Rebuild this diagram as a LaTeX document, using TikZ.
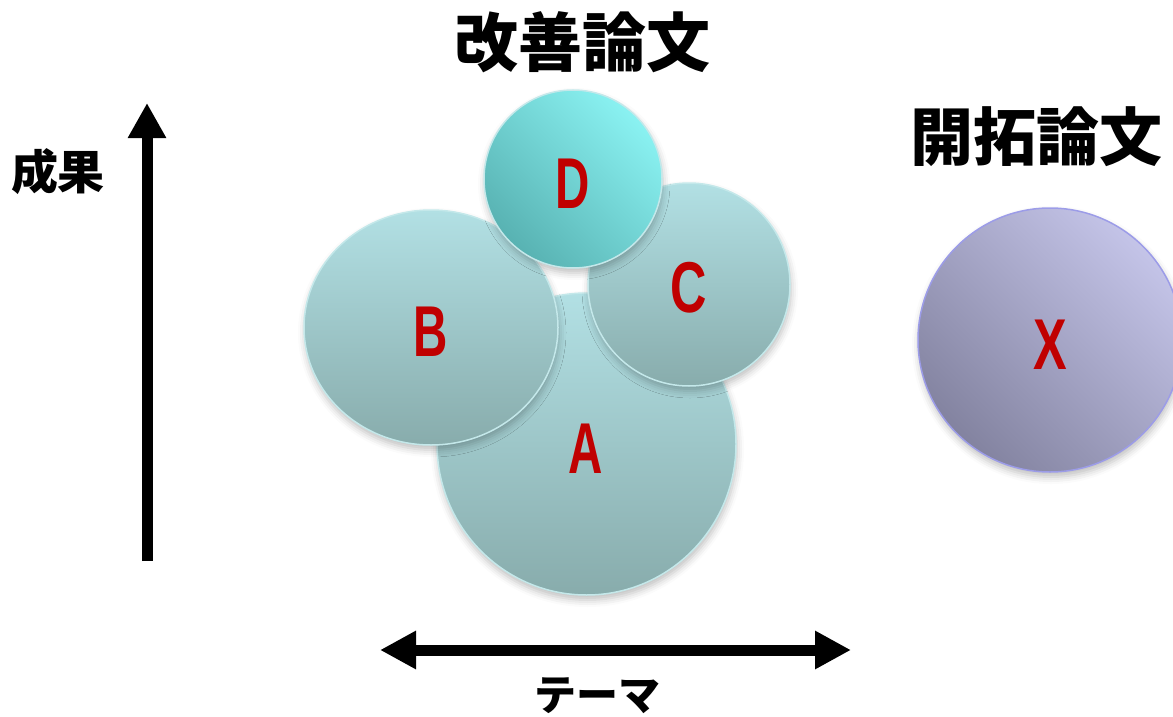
\documentclass[tikz,border=0pt]{standalone}
\usepackage{fontspec}
\newfontfamily\cjk{Noto Sans CJK JP}
\newfontfamily\lat{Liberation Sans}
\usetikzlibrary{arrows.meta,shadows.blur,shapes.geometric}
\definecolor{tealtop}{HTML}{B2E0E4}
\definecolor{tealbot}{HTML}{88ACAC}
\definecolor{tealedge}{HTML}{C4E8EA}
\definecolor{dlight}{HTML}{8AF2F2}
\definecolor{ddark}{HTML}{58B2B2}
\definecolor{xlight}{HTML}{C4C4E8}
\definecolor{xdark}{HTML}{8383A0}
\definecolor{xedge}{HTML}{9C9CE8}
\definecolor{letred}{HTML}{C00000}
\begin{document}
\begin{tikzpicture}[x=1pt,y=-1pt,
  bubble/.style={ellipse, inner sep=0pt, line width=1.5pt,
    blur shadow={shadow xshift=1pt, shadow yshift=-5pt, shadow blur radius=7pt, shadow opacity=25}},
  tealbub/.style={bubble, draw=tealedge, top color=tealtop, bottom color=tealbot},
  dbub/.style={bubble, draw=tealedge, top color=dlight, bottom color=ddark, shading angle=-45},
  xbub/.style={bubble, draw=xedge, top color=xlight, bottom color=xdark, shading angle=-45},
  letter/.style={text=letred, inner sep=0pt, font=\lat\bfseries\fontsize{72}{72}\selectfont},
  jtitle/.style={inner sep=0pt, font=\cjk\bfseries\fontsize{64}{64}\selectfont},
  axis/.style={line width=11pt, -{Triangle[width=36pt,length=35pt]}},
  axis2/.style={line width=11pt, {Triangle[width=36pt,length=36pt]}-{Triangle[width=36pt,length=36pt]}}
]
\useasboundingbox (0,0) rectangle (1173,717);

% bubbles
\node[tealbub, minimum width=299pt, minimum height=302pt] (A) at (586.5,444) {};
\node[tealbub, minimum width=254pt, minimum height=235pt] (B) at (431,327.5) {};
\node[tealbub, minimum width=202pt, minimum height=203pt] (C) at (689,284.5) {};
\node[dbub, minimum width=178pt, minimum height=178pt] (D) at (573,179) {};
\node[xbub, minimum width=264pt, minimum height=264pt] (X) at (1050,340) {};

% letters
\node[letter] (lA) at (586,449) {\scalebox{0.66}[1]{A}};
\node[letter] (lB) at (431,332) {\scalebox{0.66}[1]{B}};
\node[letter] (lC) at (689,288) {\scalebox{0.7}[1]{C}};
\node[letter] (lD) at (573,183.5) {\scalebox{0.66}[1]{D}};
\node[letter] (lX) at (1050,345) {\scalebox{0.7}[1]{X}};

% titles
\node[jtitle] (t1) at (582,42) {改善論文};
\node[jtitle, font=\cjk\bfseries\fontsize{63}{63}\selectfont] (t2) at (1036,137) {開拓論文};
\node[jtitle, font=\cjk\bfseries\fontsize{47}{47}\selectfont] (t3) at (58,172) {成果};
\node[jtitle, font=\cjk\bfseries\fontsize{42}{42}\selectfont] (t4) at (597,696) {テーマ};

% axes
\coordinate (v0) at (147,561);
\coordinate (v1) at (147,103);
\coordinate (h0) at (380,650);
\coordinate (h1) at (851,650);
\draw[axis] (v0) -- (v1);
\draw[axis2] (h0) -- (h1);
\end{tikzpicture}
\end{document}
